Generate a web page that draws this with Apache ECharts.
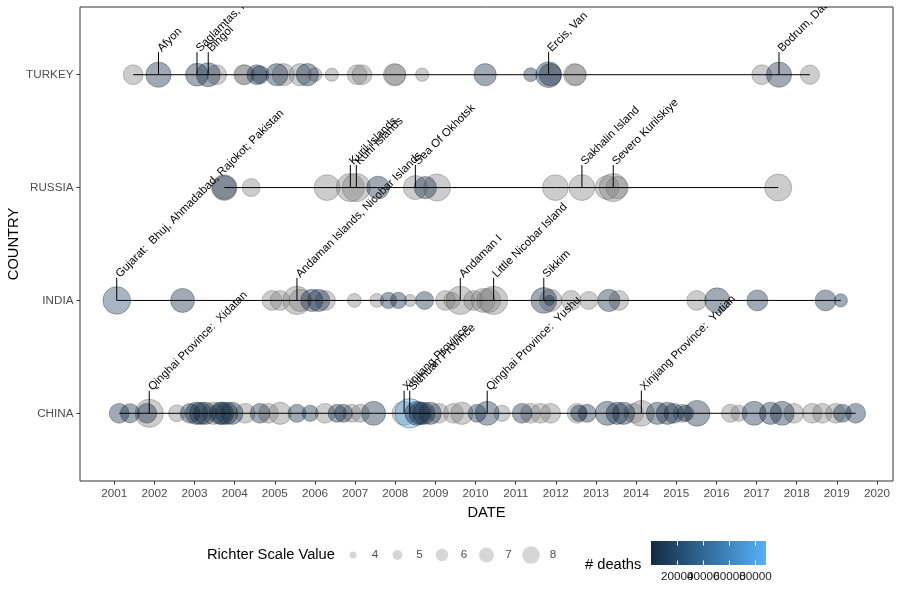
<!DOCTYPE html>
<html>
<head>
<meta charset="utf-8">
<script src="https://cdn.jsdelivr.net/npm/echarts@6/dist/echarts.min.js"></script>
<style>
  html, body { margin: 0; background: #fff; }
  #chart { width: 900px; height: 600px; }
</style>
</head>
<body>
<div id="chart"></div>
<script>
var countries = ['CHINA', 'INDIA', 'RUSSIA', 'TURKEY'];
var yearTicks = [2001, 2002, 2003, 2004, 2005, 2006, 2007, 2008, 2009, 2010,
  2011, 2012, 2013, 2014, 2015, 2016, 2017, 2018, 2019, 2020];

// decimal year, richter value, deaths (null = no record)
var chinaYear = [2001.12, 2001.39, 2001.81, 2001.87, 2002.56, 2002.89, 2003.05, 2003.15, 2003.26, 2003.47,
  2003.64, 2003.70, 2003.80, 2003.93, 2004.26, 2004.63, 2004.84, 2005.13, 2005.55, 2005.88,
  2006.25, 2006.55, 2006.71, 2006.92, 2007.13, 2007.46, 2008.22, 2008.36, 2008.54, 2008.62,
  2008.71, 2008.87, 2009.08, 2009.45, 2009.66, 2010.04, 2010.29, 2010.66, 2011.16, 2011.37,
  2011.62, 2011.87, 2012.53, 2012.57, 2012.78, 2013.28, 2013.53, 2013.69, 2013.94, 2014.13,
  2014.53, 2014.78, 2014.94, 2015.15, 2015.23, 2015.52, 2016.35, 2016.56, 2016.94, 2017.35,
  2017.64, 2017.93, 2018.39, 2018.64, 2018.97, 2019.14, 2019.47];
var chinaMag = [6.3, 6.2, 6.3, 7.7, 5.8, 6.3, 6.7, 6.7, 6.7, 6.7,
  6.7, 6.7, 6.7, 6.7, 6.3, 6.3, 6.3, 6.7, 6.0, 5.7,
  6.3, 6.0, 6.0, 6.0, 6.0, 7.0, 7.0, 7.9, 7.0, 6.7,
  6.7, 6.7, 6.3, 6.3, 6.7, 6.0, 7.0, 5.7, 6.3, 6.3,
  6.3, 6.3, 6.3, 5.7, 6.0, 7.0, 6.7, 6.7, 6.3, 7.3,
  6.7, 6.7, 6.3, 6.0, 5.7, 7.3, 6.0, 5.7, 7.0, 6.7,
  7.0, 6.3, 6.3, 6.3, 6.3, 6.0, 6.3];
var chinaDeaths = [2, 3, 1, null, null, 2, 4, 1, 268, null,
  16, 2, 3, 4, null, 1, null, null, 2, 14,
  null, 22, 1, null, null, 3, null, 87587, 6, 3,
  41, 9, null, null, null, 1, 2698, null, 25, null,
  null, null, null, 81, 4, 196, 95, 1, null, null,
  617, 1, 5, null, 1, 20, null, null, 1, 8,
  25, null, null, null, null, 1, 13];

var indiaYear = [2001.06, 2002.70, 2004.93, 2005.13, 2005.55, 2005.63, 2005.92, 2006.09, 2006.26, 2006.98,
  2007.54, 2007.83, 2008.08, 2008.37, 2008.73, 2009.25, 2009.41, 2009.62, 2009.95, 2010.19,
  2010.33, 2010.45, 2011.70, 2011.84, 2011.87, 2012.38, 2012.82, 2013.32, 2013.57, 2015.51,
  2016.02, 2017.02, 2018.72, 2019.10];
var indiaMag = [7.6, 7.0, 6.3, 6.3, 7.7, 6.7, 6.7, 6.7, 6.3, 5.3,
  5.3, 5.7, 5.7, 5.0, 6.0, 6.3, 5.7, 7.7, 6.3, 7.0,
  7.0, 7.7, 7.3, 4.7, 6.7, 6.3, 6.0, 6.7, 6.3, 6.3,
  7.2, 6.5, 6.5, 5.2];
var indiaDeaths = [20005, 1, null, null, null, null, 3, 1, null, null,
  null, 1, 2, null, 1, null, null, null, null, null,
  null, null, 111, 2, null, null, null, 2, null, null,
  11, 3, 1, 1];

var russiaYear = [2003.74, 2003.74, 2004.41, 2006.30, 2006.88, 2007.03, 2007.57, 2008.50, 2008.75, 2009.04,
  2011.99, 2012.65, 2013.28, 2013.43, 2013.53, 2017.54];
var russiaMag = [7.3, 7.0, 6.0, 7.3, 7.7, 7.7, 6.8, 7.0, 6.7, 7.5,
  7.3, 7.3, 7.0, 7.7, 6.7, 7.5];
var russiaDeaths = [null, 3, null, null, null, null, 2, null, 1, null,
  null, null, null, null, null, null];

var turkeyYear = [2001.47, 2002.10, 2003.06, 2003.34, 2003.55, 2004.22, 2004.25, 2004.55, 2004.63, 2005.05,
  2005.21, 2005.63, 2005.81, 2006.00, 2006.42, 2007.05, 2007.17, 2007.98, 2008.00, 2008.67,
  2010.24, 2011.37, 2011.82, 2011.86, 2012.47, 2012.50, 2017.13, 2017.56, 2018.33];
var turkeyMag = [6.3, 7.2, 6.8, 7.0, 6.3, 6.3, 6.3, 6.3, 6.0, 6.7,
  6.7, 6.7, 6.7, 5.3, 5.2, 6.3, 6.3, 6.7, 6.5, 5.2,
  6.7, 5.3, 7.3, 6.7, 6.7, 6.5, 6.3, 7.2, 6.2];
var turkeyDeaths = [null, 44, 1, 177, null, null, null, 10, 2, 1,
  null, null, 2, null, null, null, null, null, null, null,
  41, 2, 604, 40, null, null, null, 2, null];

// labelled quakes: row (1 = CHINA ... 4 = TURKEY), year, place
var annoRow = [4, 4, 4, 4, 4, 3, 3, 3, 3, 3, 2, 2, 2, 2, 2, 1, 1, 1, 1, 1];
var annoYear = [2002.10, 2003.06, 2003.34, 2011.82, 2017.56, 2006.88, 2007.03, 2008.50, 2012.65, 2013.43,
  2001.06, 2005.55, 2009.62, 2010.45, 2011.70, 2001.87, 2008.22, 2008.36, 2010.29, 2014.13];
var annoText = ['Afyon', 'Saglamtas, Pulumur', 'Bingol', 'Ercis, Van', 'Bodrum, Datca',
  'Kuril Islands', 'Kuril Islands', 'Sea Of Okhotsk', 'Sakhalin Island', 'Severo Kurilskiye',
  'Gujarat:  Bhuj, Ahmadabad, Rajokot; Pakistan', 'Andaman Islands, Nicobar Islands', 'Andaman I',
  'Little Nicobar Island', 'Sikkim',
  'Qinghai Province:  Xidatan', 'Xinjiang Province', 'Sichuan Province', 'Qinghai Province:  Yushu',
  'Xinjiang Province:  Yutian'];

var legendMags = [4, 5, 6, 7, 8];
var deathTicks = [20000, 40000, 60000, 80000];
var deathMax = 88000;

var FONT = 'Liberation Sans, Arial, sans-serif';
var rows = [
  { year: chinaYear, mag: chinaMag, deaths: chinaDeaths },
  { year: indiaYear, mag: indiaMag, deaths: indiaDeaths },
  { year: russiaYear, mag: russiaMag, deaths: russiaDeaths },
  { year: turkeyYear, mag: turkeyMag, deaths: turkeyDeaths }
];

var greyPts = [], bluePts = [], lineSeries = [];
rows.forEach(function (r, c) {
  r.year.forEach(function (y, i) {
    if (r.deaths[i] == null) greyPts.push([y, c + 1, r.mag[i]]);
    else bluePts.push([y, c + 1, r.mag[i], r.deaths[i]]);
  });
  var sorted = r.year.slice().sort(function (a, b) { return a - b; });
  lineSeries.push({
    type: 'line', xAxisIndex: 0, yAxisIndex: 0, silent: true, symbol: 'none', z: 3,
    lineStyle: { color: '#000', width: 1 },
    data: sorted.map(function (y) { return [y, c + 1]; })
  });
});

function dotSize(m) { return 6 * m - 18; }
function legendSize(m) { return 2.6 * m - 3.2; }

var chart = echarts.init(document.getElementById('chart'));
chart.setOption({
  animation: false,
  backgroundColor: '#fff',
  textStyle: { fontFamily: FONT },
  grid: [
    {
      left: 80, top: 7, width: 813, height: 474, outerBoundsMode: 'none',
      show: true, borderColor: '#333', borderWidth: 1, backgroundColor: '#fff'
    },
    {
      left: 651, top: 541, width: 115, height: 24, outerBoundsMode: 'none', show: true, borderWidth: 0,
      backgroundColor: new echarts.graphic.LinearGradient(0, 0, 1, 0, [
        { offset: 0, color: '#132B43' }, { offset: 1, color: '#56B1F7' }
      ])
    },
    { left: 353, top: 545, width: 178, height: 20, outerBoundsMode: 'none' }
  ],
  xAxis: [
    {
      type: 'value', gridIndex: 0, min: 2000.145, max: 2020.4,
      axisLine: { show: false }, splitLine: { show: false },
      axisTick: { show: true, customValues: yearTicks, length: 3.5, lineStyle: { color: '#333' } },
      axisLabel: {
        customValues: yearTicks, margin: 6.5, color: '#4d4d4d', fontSize: 11.7, fontFamily: FONT,
        formatter: function (v) { return String(v); }
      },
      name: 'DATE', nameLocation: 'middle', nameGap: 24, nameMoveOverlap: false,
      nameTextStyle: { color: '#000', fontSize: 14.7, fontFamily: FONT }
    },
    {
      type: 'value', gridIndex: 1, min: 0, max: deathMax, position: 'bottom',
      axisLine: { show: false }, splitLine: { show: false }, axisLabel: { show: false },
      axisTick: { show: true, inside: true, customValues: deathTicks, length: 4.5, lineStyle: { color: '#fff', width: 1 } }
    },
    {
      type: 'value', gridIndex: 1, min: 0, max: deathMax, position: 'top',
      axisLine: { show: false }, splitLine: { show: false }, axisLabel: { show: false },
      axisTick: { show: true, inside: true, customValues: deathTicks, length: 4.5, lineStyle: { color: '#fff', width: 1 } }
    },
    { type: 'value', gridIndex: 2, min: 4, max: 8, show: false }
  ],
  yAxis: [
    {
      type: 'value', gridIndex: 0, min: 0.4, max: 4.6,
      axisLine: { show: false }, splitLine: { show: false },
      axisTick: { show: true, customValues: [1, 2, 3, 4], length: 3.5, lineStyle: { color: '#333' } },
      axisLabel: {
        customValues: [1, 2, 3, 4], margin: 6.5, color: '#4d4d4d', fontSize: 11.7, fontFamily: FONT,
        formatter: function (v) { return countries[Math.round(v) - 1]; }
      },
      name: 'COUNTRY', nameLocation: 'middle', nameGap: 59, nameRotate: 90, nameMoveOverlap: false,
      nameTextStyle: { color: '#000', fontSize: 14.7, fontFamily: FONT }
    },
    { type: 'value', gridIndex: 1, min: 0, max: 1, show: false },
    { type: 'value', gridIndex: 2, min: 0, max: 1, show: false }
  ],
  visualMap: {
    type: 'continuous', show: false, seriesIndex: 1, dimension: 3,
    min: 0, max: deathMax,
    inRange: { color: ['#132B43', '#56B1F7'], colorAlpha: 0.5 }
  },
  graphic: [
    { type: 'text', left: 207, top: 547, style: { text: 'Richter Scale Value', fill: '#000', font: '14.7px ' + FONT } },
    { type: 'text', left: 585, top: 557, style: { text: '# deaths', fill: '#000', font: '14.7px ' + FONT } }
  ],
  series: [
    {
      type: 'scatter', xAxisIndex: 0, yAxisIndex: 0, z: 2, silent: true,
      symbolSize: function (v) { return dotSize(v[2]); },
      itemStyle: { color: 'rgba(127,127,127,0.5)', borderColor: 'rgba(90,90,90,0.55)', borderWidth: 0.8 },
      data: greyPts
    },
    {
      type: 'scatter', xAxisIndex: 0, yAxisIndex: 0, z: 2, silent: true,
      symbolSize: function (v) { return dotSize(v[2]); },
      itemStyle: { borderColor: 'rgba(19,43,67,0.55)', borderWidth: 0.8 },
      data: bluePts
    }
  ].concat(lineSeries).concat([
    {
      type: 'custom', xAxisIndex: 0, yAxisIndex: 0, z: 4, silent: true, clip: true,
      renderItem: function (params, api) {
        var base = api.coord([api.value(0), api.value(1)]);
        var top = api.coord([api.value(0), api.value(1) + 0.2]);
        return {
          type: 'group',
          children: [
            { type: 'line', shape: { x1: base[0], y1: base[1], x2: top[0], y2: top[1] }, style: { stroke: '#000', lineWidth: 1 } },
            {
              type: 'text', x: top[0] + 1, y: top[1] - 2, rotation: Math.PI / 4,
              style: { text: annoText[params.dataIndex], fill: '#000', font: '11.4px ' + FONT, align: 'left', verticalAlign: 'middle' }
            }
          ]
        };
      },
      data: annoYear.map(function (y, i) { return [y, annoRow[i]]; })
    },
    {
      // colour bar labels, placed on the deaths scale
      type: 'custom', xAxisIndex: 1, yAxisIndex: 1, silent: true, z: 5,
      renderItem: function (params, api) {
        var p = api.coord([api.value(0), 0]);
        return {
          type: 'text', x: p[0], y: p[1] + 12,
          style: { text: String(api.value(0)), fill: '#1a1a1a', font: '11.7px ' + FONT, align: 'center', verticalAlign: 'middle' }
        };
      },
      data: deathTicks.map(function (d) { return [d, 0]; })
    },
    {
      type: 'scatter', xAxisIndex: 3, yAxisIndex: 2, silent: true,
      symbolSize: function (v) { return legendSize(v[0]); },
      itemStyle: { color: 'rgba(127,127,127,0.4)' },
      label: {
        show: true, position: 'inside', offset: [22, 0], color: '#1a1a1a', fontSize: 11.7, fontFamily: FONT,
        formatter: function (p) { return String(p.value[0]); }
      },
      data: legendMags.map(function (m) { return [m, 0.5]; })
    }
  ])
});
</script>
</body>
</html>
